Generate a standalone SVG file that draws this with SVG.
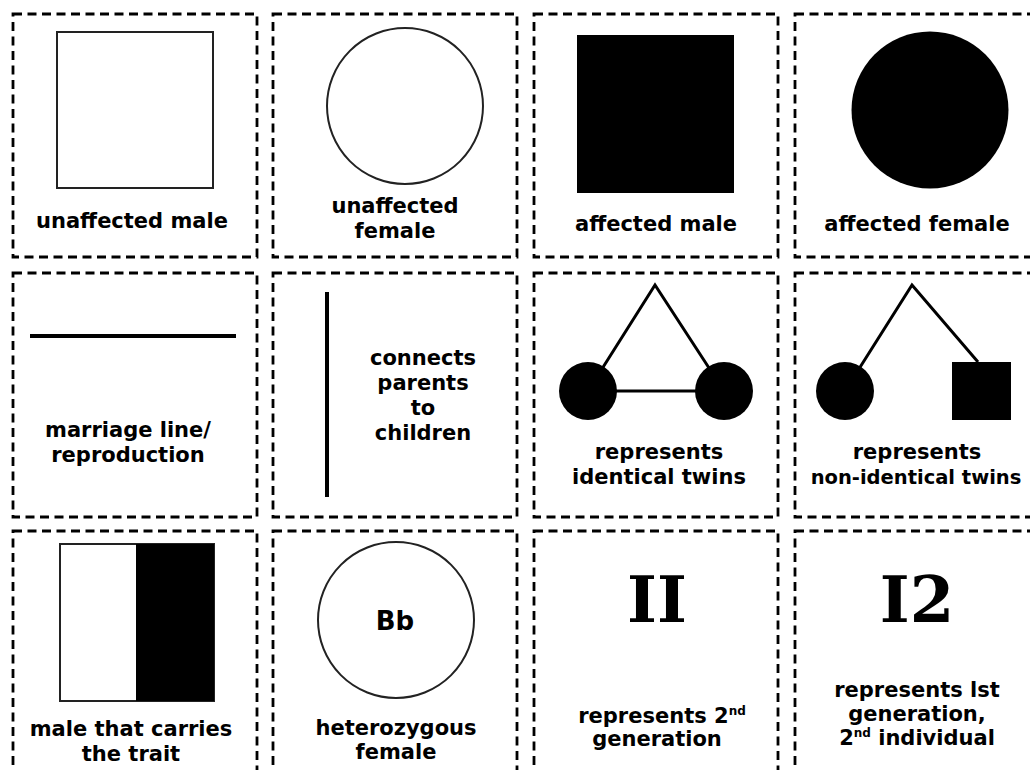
<svg xmlns="http://www.w3.org/2000/svg" width="1030" height="770" viewBox="0 0 1030 770">
<style>
.card{fill:#fff;stroke:#000;stroke-width:2.8;stroke-dasharray:9 5.5}
.lbl{font-family:"DejaVu Sans","Liberation Sans",sans-serif;font-weight:700;font-size:21px;fill:#000;text-anchor:middle}
.sup{font-size:12px}
.big{font-family:"DejaVu Serif",serif;font-weight:700;font-size:64px;fill:#000;text-anchor:middle}
.outline{fill:#fff;stroke:#222;stroke-width:2}
.ln{stroke:#000;stroke-width:3;fill:none}
</style>
<rect width="1030" height="770" fill="#fff"/>
<g id="cards">
<rect class="card" x="13" y="14" width="244" height="243"/>
<rect class="card" x="273" y="14" width="244" height="243"/>
<rect class="card" x="534" y="14" width="244" height="243"/>
<rect class="card" x="795" y="14" width="244" height="243"/>
<rect class="card" x="13" y="273" width="244" height="244"/>
<rect class="card" x="273" y="273" width="244" height="244"/>
<rect class="card" x="534" y="273" width="244" height="244"/>
<rect class="card" x="795" y="273" width="244" height="244"/>
<rect class="card" x="13" y="531" width="244" height="250"/>
<rect class="card" x="273" y="531" width="244" height="250"/>
<rect class="card" x="534" y="531" width="244" height="250"/>
<rect class="card" x="795" y="531" width="244" height="250"/>
</g>
<g id="unaffected-male">
<rect class="outline" x="57" y="32" width="156" height="156"/>
<text class="lbl" x="132" y="228">unaffected male</text>
</g>
<g id="unaffected-female">
<circle class="outline" cx="405" cy="106" r="78"/>
<text class="lbl" x="395" y="213">unaffected</text>
<text class="lbl" x="395" y="238">female</text>
</g>
<g id="affected-male">
<rect x="577" y="35" width="157" height="158" fill="#000"/>
<text class="lbl" x="656" y="231">affected male</text>
</g>
<g id="affected-female">
<circle cx="930" cy="110" r="78.5" fill="#000"/>
<text class="lbl" x="917" y="231">affected female</text>
</g>
<g id="marriage-line">
<line x1="30" y1="336" x2="236" y2="336" stroke="#000" stroke-width="4"/>
<text class="lbl" x="128" y="437">marriage line/</text>
<text class="lbl" x="128" y="462">reproduction</text>
</g>
<g id="connects-parents">
<line x1="327" y1="292" x2="327" y2="497" stroke="#000" stroke-width="4"/>
<text class="lbl" x="423" y="365">connects</text>
<text class="lbl" x="423" y="390">parents</text>
<text class="lbl" x="423" y="415">to</text>
<text class="lbl" x="423" y="440">children</text>
</g>
<g id="identical-twins">
<polyline class="ln" points="588,391 655,285 724,391"/>
<line class="ln" x1="588" y1="391" x2="724" y2="391"/>
<circle cx="588" cy="391" r="29" fill="#000"/>
<circle cx="724" cy="391" r="29" fill="#000"/>
<text class="lbl" x="659" y="459">represents</text>
<text class="lbl" x="659" y="484">identical twins</text>
</g>
<g id="non-identical-twins">
<polyline class="ln" points="845,391 912,285 978,362"/>
<circle cx="845" cy="391" r="29" fill="#000"/>
<rect x="952" y="362" width="59" height="58" fill="#000"/>
<text class="lbl" x="917" y="459">represents</text>
<text class="lbl" x="916" y="484" style="font-size:19.5px">non-identical twins</text>
</g>
<g id="carrier-male">
<rect class="outline" x="60" y="544" width="154" height="157"/>
<rect x="136" y="544" width="78" height="157" fill="#000"/>
<text class="lbl" x="131" y="736">male that carries</text>
<text class="lbl" x="131" y="761">the trait</text>
</g>
<g id="heterozygous-female">
<circle class="outline" cx="396" cy="620" r="78"/>
<text class="lbl" x="395" y="630" style="font-size:26px">Bb</text>
<text class="lbl" x="396" y="735">heterozygous</text>
<text class="lbl" x="396" y="759">female</text>
</g>
<g id="second-generation">
<text class="big" x="657" y="622">II</text>
<text class="lbl" x="662" y="723">represents 2<tspan class="sup" dy="-8">nd</tspan></text>
<text class="lbl" x="657" y="746">generation</text>
</g>
<g id="first-gen-second-individual">
<text class="big" x="917" y="622">I2</text>
<text class="lbl" x="917" y="697">represents lst</text>
<text class="lbl" x="917" y="721">generation,</text>
<text class="lbl" x="917" y="745">2<tspan class="sup" dy="-8">nd</tspan><tspan dy="8"> individual</tspan></text>
</g>
</svg>
